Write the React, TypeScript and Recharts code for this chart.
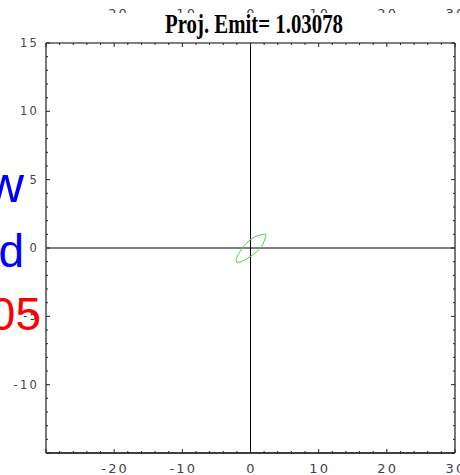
import { ReferenceLine, Scatter, ScatterChart, XAxis, YAxis } from 'recharts'

// outline of the green phase-space ellipse
const ellipseX = [2.22, 1.39, 0.66, 0.07, -0.41, -0.91, -1.39, -1.79, -2.13, -2.02, -1.39, -0.7, 0.07, 0.76, 1.35, 1.79, 2.08, 2.27, 2.22]
const ellipseY = [1.02, 0.95, 0.83, 0.63, 0.44, 0.17, -0.15, -0.46, -0.83, -1.05, -1.02, -0.83, -0.59, -0.34, -0.05, 0.24, 0.59, 0.93, 1.02]

const xTicks = [-30, -28, -26, -24, -22, -20, -18, -16, -14, -12, -10, -8, -6, -4, -2, 0, 2, 4, 6, 8, 10, 12, 14, 16, 18, 20, 22, 24, 26, 28, 30]
const xLabels = [-20, -10, 0, 10, 20, 30]
const yTicks = [-15, -14, -13, -12, -11, -10, -9, -8, -7, -6, -5, -4, -3, -2, -1, 0, 1, 2, 3, 4, 5, 6, 7, 8, 9, 10, 11, 12, 13, 14, 15]
const yLabels = [-10, -5, 0, 5, 10, 15]

const title = 'Proj. Emit= 1.03078'
const sideWords = ['w', 'd', '05']

const ellipse = ellipseX.map((x, i) => ({ x, y: ellipseY[i] }))

const W = 460
const H = 475
const M = { top: 43, right: 5, bottom: 22, left: 46 }
const frameTop = M.top
const frameRight = W - M.right

const labelFont = { fontFamily: 'DejaVu Sans', fill: '#444', letterSpacing: 2.2 }

// draws the bottom tick + label and the matching top frame tick + (half cut) label
function XTick({ x, y, payload }: any) {
  const v = payload.value
  const major = v % 10 === 0
  const len = major ? 4 : 2
  const labelled = xLabels.includes(v)
  return (
    <g>
      <line x1={x} x2={x} y1={y} y2={y - len} stroke="#222" />
      <line x1={x} x2={x} y1={frameTop} y2={frameTop + len} stroke="#222" />
      {labelled && (
        <text x={x + 1} y={y + 20} textAnchor="middle" fontSize={13} {...labelFont}>
          {v}
        </text>
      )}
      {labelled && (
        <svg x={x - 30} y={0} width={60} height={13}>
          <text x={31} y={18} textAnchor="middle" fontSize={13} {...labelFont}>
            {v}
          </text>
        </svg>
      )}
    </g>
  )
}

// left tick + label, and the matching inward tick on the right frame
function YTick({ x, y, payload }: any) {
  const v = payload.value
  const len = v % 5 === 0 ? 4 : 2
  return (
    <g>
      <line x1={x} x2={x + len} y1={y} y2={y} stroke="#222" />
      <line x1={frameRight} x2={frameRight - len} y1={y} y2={y} stroke="#222" />
      {yLabels.includes(v) && (
        <text x={x - 7} y={y + 4} textAnchor="end" fontSize={11.5} {...labelFont}>
          {v}
        </text>
      )}
    </g>
  )
}

export default function App() {
  return (
    <div style={{ position: 'absolute', left: 0, top: 0, width: W, height: H, background: '#fff' }}>
      <ScatterChart width={W} height={H} margin={{ top: 0, right: 0, bottom: 0, left: 0 }}>
        <XAxis
          xAxisId="b"
          type="number"
          dataKey="x"
          domain={[-30, 30]}
          ticks={xTicks}
          interval={0}
          allowDataOverflow
          height={M.bottom}
          tickSize={0}
          tickMargin={0}
          tick={<XTick />}
          axisLine={{ stroke: '#000', strokeWidth: 1.5 }}
        />
        <XAxis
          xAxisId="t"
          orientation="top"
          type="number"
          domain={[-30, 30]}
          allowDataOverflow
          height={M.top}
          tick={false}
          tickLine={false}
          axisLine={{ stroke: '#555', strokeWidth: 1.5 }}
        />
        <YAxis
          yAxisId="l"
          type="number"
          dataKey="y"
          domain={[-15, 15]}
          ticks={yTicks}
          interval={0}
          allowDataOverflow
          width={M.left}
          tickSize={0}
          tickMargin={0}
          tick={<YTick />}
          axisLine={{ stroke: '#777', strokeWidth: 2 }}
        />
        <YAxis
          yAxisId="r"
          orientation="right"
          type="number"
          domain={[-15, 15]}
          allowDataOverflow
          width={M.right}
          tick={false}
          tickLine={false}
          axisLine={{ stroke: '#777', strokeWidth: 2 }}
        />
        <ReferenceLine xAxisId="b" yAxisId="l" x={0} stroke="#000" strokeWidth={1} />
        <ReferenceLine xAxisId="b" yAxisId="l" y={0} stroke="#000" strokeWidth={1} />
        <Scatter
          xAxisId="b"
          yAxisId="l"
          data={ellipse}
          line={{ stroke: '#55cc55', strokeWidth: 1 }}
          lineType="joint"
          shape={() => <g />}
          isAnimationActive={false}
        />
      </ScatterChart>
      <svg width={W} height={H} style={{ position: 'absolute', left: 0, top: 0, pointerEvents: 'none' }}>
        <text
          x={254}
          y={33}
          textAnchor="middle"
          fontFamily="Liberation Serif"
          fontWeight="bold"
          fontSize={28}
          textLength={178}
          lengthAdjust="spacingAndGlyphs"
          fill="#000"
        >
          {title}
        </text>
        <text x={24} y={202} textAnchor="end" fontFamily="Liberation Sans" fontSize={52} fill="#0000ff">
          {sideWords[0]}
        </text>
        <text x={24} y={267} textAnchor="end" fontFamily="Liberation Sans" fontSize={46} fill="#0000ff">
          {sideWords[1]}
        </text>
        <text x={41} y={330} textAnchor="end" fontFamily="Liberation Sans" fontSize={46} fill="#ff0000">
          {sideWords[2]}
        </text>
      </svg>
    </div>
  )
}
